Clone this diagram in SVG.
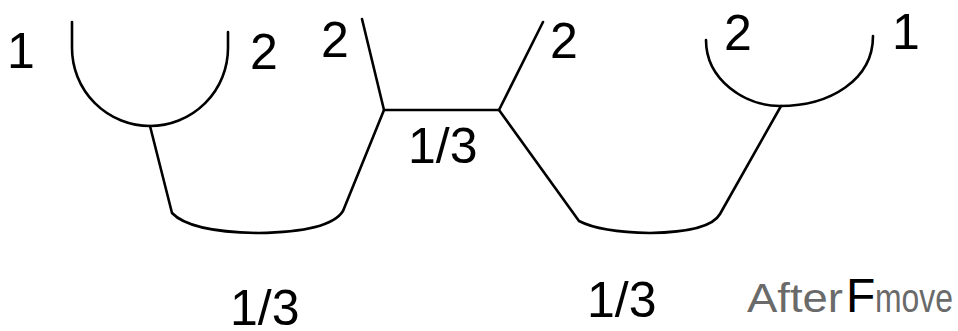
<svg xmlns="http://www.w3.org/2000/svg" width="958" height="331" viewBox="0 0 958 331">
<style>
.ln{fill:none;stroke:#000;stroke-width:2.6;stroke-linecap:round;stroke-linejoin:round}
.lb{font-family:"Liberation Sans",Arial,sans-serif;font-size:50px;fill:#000}
.gr{font-family:"Liberation Sans",Arial,sans-serif;font-size:40px;fill:#6a6a6a;font-weight:normal}
</style>
<rect width="958" height="331" fill="#fff"/>
<g id="connectors">
<path class="ln" d="M72,22 L72,48 A78,78 0 0 0 150,126 A78,78 0 0 0 228,48 L228,32"/>
<path class="ln" d="M150,126 L172,213 Q190,232 258,233 Q330,232 343,211 L384,110 L499,110 L579,221 Q600,232 650,233 Q710,232 720,214 L781,106"/>
<path class="ln" d="M362,19 L384,110"/>
<path class="ln" d="M543,22 L499,110"/>
<path class="ln" d="M706,40 C706,80 745,106 780,106 C830,106 873,80 873,36"/>
</g>
<g id="leaf-left">
<text class="lb" x="7" y="68">1</text>
<text class="lb" x="250" y="69">2</text>
</g>
<g id="leaf-mid">
<text class="lb" x="321" y="57">2</text>
<text class="lb" x="550" y="58">2</text>
</g>
<g id="leaf-right">
<text class="lb" x="724" y="50">2</text>
<text class="lb" x="892" y="49">1</text>
</g>
<g id="edge-labels">
<text class="lb" x="230" y="325">1/3</text>
<text class="lb" x="408" y="163">1/3</text>
<text class="lb" x="587" y="317">1/3</text>
</g>
<g id="caption">
<text class="gr" x="747" y="312" textLength="96" lengthAdjust="spacingAndGlyphs">After</text>
<text class="lb" x="846" y="312" style="font-size:48px">F</text>
<text class="gr" x="875" y="312" textLength="78" lengthAdjust="spacingAndGlyphs">move</text>
</g>
</svg>
